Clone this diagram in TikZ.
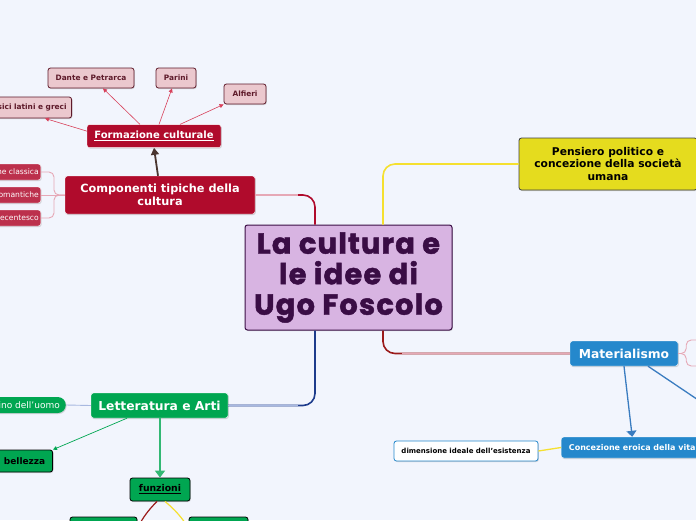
\documentclass[tikz,border=0pt]{standalone}
\usepackage{xcolor}
\usepackage{fontspec}
\setmainfont{DejaVu Sans}
\newfontfamily\titlefont{Poppins}[LetterSpace=4, BoldFeatures={FakeBold=1.6}]
\usepackage{tikz}
\usetikzlibrary{arrows.meta, positioning, shadows}

\definecolor{bgblue}{HTML}{F2F5FD}
\definecolor{rootfill}{HTML}{D8B4E2}
\definecolor{rootdark}{HTML}{3A0D45}
\definecolor{crimson}{HTML}{B00B2C}
\definecolor{rosefill}{HTML}{EBC8CE}
\definecolor{rosedark}{HTML}{5E1A2A}
\definecolor{roseline}{HTML}{D8405A}
\definecolor{palerose}{HTML}{E6A8B6}
\definecolor{darkred}{HTML}{9B1B1B}
\definecolor{matblue}{HTML}{2588CC}
\definecolor{arrowblue}{HTML}{3A7CC0}
\definecolor{navy}{HTML}{1E3C8C}
\definecolor{paleblue}{HTML}{A8B8E0}
\definecolor{leafgreen}{HTML}{00A651}
\definecolor{sungold}{HTML}{E5DC1E}
\definecolor{lineyellow}{HTML}{F5E030}
\definecolor{bark}{HTML}{4A3530}

\begin{document}
\begin{tikzpicture}[x=1pt, y=-1pt,
    base/.style={rectangle, rounded corners=2.5pt, align=center, inner sep=2pt,
        drop shadow={shadow xshift=0.8pt, shadow yshift=-1pt, opacity=0.3}},
    root/.style={base, fill=rootfill, draw=rootdark, line width=1pt, text=rootdark,
        font=\titlefont\bfseries\fontsize{29}{30.5}\selectfont, minimum width=207, minimum height=105},
    redbox/.style={base, fill=crimson, draw=white, text=white, font=\bfseries\fontsize{11.3}{13}\selectfont},
    rosebox/.style={base, fill=rosefill, draw=rosedark, line width=0.8pt, text=rosedark,
        font=\bfseries\fontsize{7.4}{8}\selectfont, minimum height=20},
    redtab/.style={base, fill=crimson!85, draw=white, text=white, font=\fontsize{7.6}{8}\selectfont,
        minimum height=16, anchor=east},
    yellowbox/.style={base, fill=sungold, draw=black!75, line width=0.8pt,
        font=\bfseries\fontsize{10.7}{12.4}\selectfont, minimum width=178, minimum height=52},
    bluebox/.style={base, fill=matblue, draw=white, text=white, font=\bfseries\fontsize{12.3}{14}\selectfont},
    greenbox/.style={base, fill=leafgreen, draw=white, text=white, font=\bfseries\fontsize{12.3}{14}\selectfont},
    leafbox/.style={base, fill=leafgreen, draw=black, line width=0.8pt, font=\bfseries\fontsize{9}{10}\selectfont},
    link/.style={line width=1.6pt, rounded corners=12pt},
    twig/.style={-{Triangle[length=4pt, width=4pt]}, roseline, line width=0.6pt},
    thin/.style={line width=0.9pt}
]
    % canvas
    \fill[bgblue] (0,0) rectangle (696,520);
    \useasboundingbox (0,0) rectangle (696,520);

    % main topic
    \node[root] (central) at (348.5,277.5) {La cultura e\\le idee di\\Ugo Foscolo};

    % cultura
    \node[redbox, minimum width=190, minimum height=38] (comp) at (160,195) {Componenti tipiche della\\cultura};
    \node[redbox, font=\bfseries\fontsize{10}{11}\selectfont, minimum width=134, minimum height=23,
        above=28pt of comp, xshift=-6pt] (form) {\underline{Formazione culturale}};
    \node[rosebox, minimum width=86] (dante) at (91,78) {Dante e Petrarca};
    \node[rosebox, minimum width=40] (parini) at (176,78) {Parini};
    \node[rosebox, minimum width=42] (alfieri) at (245,94) {Alfieri};
    \node[rosebox, anchor=east, minimum height=21, inner sep=5pt] (classici) at (72,107.5) {Classici latini e greci};
    \node[redtab] (trad) at (41,172) {Tradizione classica};
    \node[redtab] (tend) at (41,195) {Tendenze romantiche};
    \node[redtab] (gusto) at (41,218) {Gusto settecentesco};

    % politica e materialismo
    \node[yellowbox] (pens) at (608,164) {Pensiero politico e\\concezione della società\\umana};
    \node[bluebox, minimum width=108, minimum height=25] (mat) at (624,353.5) {Materialismo};
    \node[bluebox, font=\bfseries\fontsize{8}{9}\selectfont, anchor=west, minimum width=142,
        minimum height=21] (conc) at (561,447.5) {Concezione eroica della vita};
    \node[base, fill=white, draw=matblue, line width=0.8pt, font=\bfseries\fontsize{7}{8}\selectfont,
        minimum width=144, minimum height=20] (dimen) at (466,451) {dimensione ideale dell'esistenza};
    \coordinate (offa) at (712,340);
    \coordinate (offb) at (712,366);
    \coordinate (offc) at (722,416);

    % letteratura
    \node[greenbox, minimum width=137, minimum height=25] (lett) at (159.5,405.5) {Letteratura e Arti};
    \node[base, fill=leafgreen, text=white, rounded corners=8pt, anchor=east, minimum height=16,
        inner xsep=6pt, font=\fontsize{9}{10}\selectfont] (uomo) at (66,405) {Il destino dell'uomo};
    \node[leafbox, anchor=east, minimum width=56, minimum height=22] (bell) at (53,461) {bellezza};
    \node[leafbox, font=\bfseries\fontsize{9.3}{10}\selectfont, minimum width=60, minimum height=23] (funz) at (160,489.5) {\underline{funzioni}};
    \node[leafbox, minimum width=67, minimum height=22] (fa) at (103.5,528) {};
    \node[leafbox, minimum width=59, minimum height=22] (fb) at (218.5,528) {};

    % links to the main topic
    \coordinate (compbend) at (298,195);
    \coordinate (matbend) at (402,353.5);
    \coordinate (lettbend) at (298,405.5);
    \draw[link, crimson] (comp.east) -| ([xshift=-33.5pt]central.north);
    \draw[link, palerose] (comp.east) -- (compbend);
    \draw[link, lineyellow] ([xshift=34.5pt]central.north) |- (pens.west);
    \draw[link, darkred] ([xshift=34.5pt]central.south) |- (mat.west);
    \draw[link, palerose] (matbend) -- (mat.west);
    \draw[link, navy] ([xshift=-33.5pt]central.south) |- (lett.east);
    \draw[link, paleblue] (lettbend) -- (lett.east);

    % cultura branches
    \draw[-{Triangle[length=7pt, width=8pt]}, bark, line width=1.8pt] ([xshift=-2pt]comp.north) -- (form.south);
    \draw[twig] ([xshift=-14pt]form.north) -- ([xshift=12pt]dante.south);
    \draw[twig] ([xshift=5pt]form.north) -- ([xshift=-4pt]parini.south);
    \draw[twig] ([xshift=26pt]form.north) -- (alfieri.south west);
    \draw[twig] ([yshift=5pt]form.west) -- ([xshift=-27pt]classici.south east);
    \draw[palerose, thin, rounded corners=5pt] (trad.east) -- ++(13,0) |- (comp.west);
    \draw[palerose, thin, rounded corners=5pt] (gusto.east) -- ++(13,0) |- (comp.west);
    \draw[palerose, thin] (tend.east) -- (comp.west);

    % materialismo branches
    \draw[palerose, thin, rounded corners=5pt] (mat.east) -- ++(8,0) |- (offa);
    \draw[palerose, thin, rounded corners=5pt] (mat.east) -- ++(8,0) |- (offb);
    \draw[-{Triangle[length=6pt, width=10pt]}, arrowblue, line width=1.3pt] (mat.south) -- (conc.north);
    \draw[arrowblue, line width=1.3pt] ([xshift=24pt]mat.south) -- (offc);
    \draw[lineyellow, line width=1.3pt] (dimen.east) -- (conc.west);

    % letteratura branches
    \draw[paleblue, thin] (uomo.east) -- (lett.west);
    \draw[-{Triangle[length=4pt, width=4pt]}, leafgreen, line width=0.7pt] ([xshift=-32.5pt]lett.south) -- (bell.north east);
    \draw[-{Triangle[length=7pt, width=10pt]}, leafgreen!80, line width=1.4pt] ([xshift=0.5pt]lett.south) -- (funz.north);
    \draw[darkred, line width=1.2pt] ([xshift=-3pt]funz.south) to[bend right=8] (fa.east);
    \draw[lineyellow, line width=1.2pt] ([xshift=5pt]funz.south) to[bend left=8] (fb.west);
\end{tikzpicture}
\end{document}
